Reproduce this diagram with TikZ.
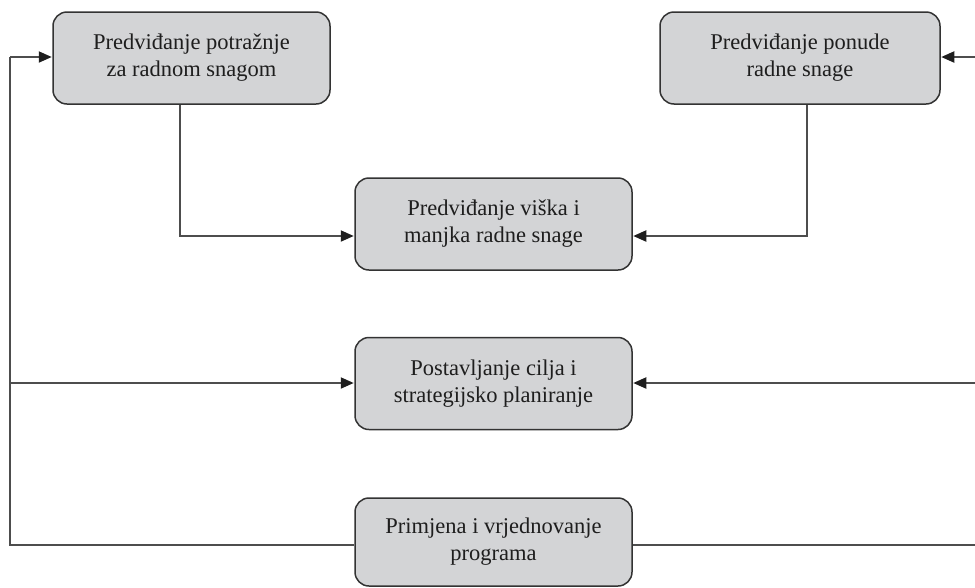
\documentclass[tikz,border=0pt]{standalone}
\usepackage{fontspec}
\setmainfont{Liberation Serif}
\usetikzlibrary{arrows.meta}
\definecolor{boxfill}{HTML}{D3D4D6}
\definecolor{boxline}{HTML}{333333}
\definecolor{conline}{HTML}{4D4D4D}
\definecolor{tipcol}{HTML}{1E1E1E}
\definecolor{txt}{HTML}{1E1E1E}
\tikzset{
  stagebox/.style={draw=boxline, line width=1.5pt, fill=boxfill, rounded corners=14pt,
    minimum width=277pt, minimum height=92pt, align=center, text=txt,
    font=\fontsize{22.5}{27}\selectfont, inner sep=0pt},
  conn/.style={draw=conline, line width=2pt},
  arr/.style={conn, -{Triangle[length=13pt,width=11pt,color=tipcol,fill=tipcol]}, shorten >=0.5pt}
}
\begin{document}
\begin{tikzpicture}[x=1pt,y=-1pt]
\useasboundingbox (0,0) rectangle (975,587);
\node[stagebox] (b1) at (191.5,58) {Predviđanje potražnje\\za radnom snagom};
\node[stagebox, minimum width=280pt] (b2) at (800,58) {Predviđanje ponude\\radne snage};
\node[stagebox] (b3) at (493.5,224) {Predviđanje viška i\\manjka radne snage};
\node[stagebox] (b4) at (493.5,383.5) {Postavljanje cilja i\\strategijsko planiranje};
\node[stagebox, minimum height=88pt] (b5) at (493.5,542) {Primjena i vrjednovanje\\programa};
\coordinate (lt) at (10,57);
\coordinate (lm) at (10,383);
\coordinate (lb) at (10,545);
\coordinate (rt) at (976,57);
\coordinate (rm) at (976,383);
\coordinate (rb) at (976,545);
% demand/supply to surplus
\draw[arr] ([xshift=-11.5pt]b1.south) |- ([yshift=-12pt]b3.west);
\draw[arr] ([xshift=7pt]b2.south) |- ([yshift=-12pt]b3.east);
% feedback loop left
\draw[conn] (b5.west |- lb) -- (lb) -- (lt);
\draw[arr] (lt) -- (b1.west |- lt);
\draw[arr] (lm) -- (b4.west |- lm);
% right side
\draw[conn] (b5.east |- rb) -- (rb);
\draw[arr] (rm) -- (b4.east |- rm);
\draw[arr] (rt) -- (b2.east |- rt);
\end{tikzpicture}
\end{document}
